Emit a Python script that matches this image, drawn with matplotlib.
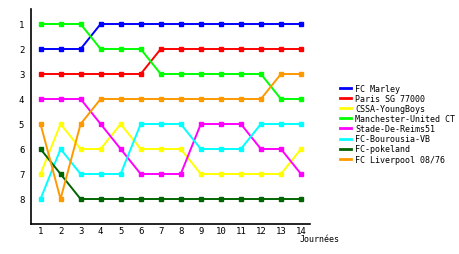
import matplotlib
matplotlib.use('Agg')
import matplotlib.pyplot as plt

# journées
journees = list(range(1, 15))

# classement de chaque équipe
equipes = ['FC Marley', 'Paris SG 77000', 'CSSA-YoungBoys', 'Manchester-United CT',
           'Stade-De-Reims51', 'FC-Bourousia-VB', 'FC-pokeland', 'FC Liverpool 08/76']
couleurs = ['#0000ff', '#ff0000', '#ffff00', '#00ff00', '#ff00ff', '#00ffff', '#006400', '#ff9900']

marley = [2, 2, 2, 1, 1, 1, 1, 1, 1, 1, 1, 1, 1, 1]
paris = [3, 3, 3, 3, 3, 3, 2, 2, 2, 2, 2, 2, 2, 2]
cssa = [7, 5, 6, 6, 5, 6, 6, 6, 7, 7, 7, 7, 7, 6]
manchester = [1, 1, 1, 2, 2, 2, 3, 3, 3, 3, 3, 3, 4, 4]
reims = [4, 4, 4, 5, 6, 7, 7, 7, 5, 5, 5, 6, 6, 7]
bourousia = [8, 6, 7, 7, 7, 5, 5, 5, 6, 6, 6, 5, 5, 5]
pokeland = [6, 7, 8, 8, 8, 8, 8, 8, 8, 8, 8, 8, 8, 8]
liverpool = [5, 8, 5, 4, 4, 4, 4, 4, 4, 4, 4, 4, 3, 3]

classements = [marley, paris, cssa, manchester, reims, bourousia, pokeland, liverpool]

plt.rcParams['font.family'] = ['DejaVu Sans Mono']

fig = plt.figure(figsize=(4.6, 2.55), dpi=100)
ax = fig.add_axes([30.5 / 460, 1 - 225 / 255, 279.5 / 460, 215 / 255])

for nom, coul, rang in zip(equipes, couleurs, classements):
    ax.plot(journees, rang, color=coul, linewidth=1.4, marker='s', markersize=2.5,
            label=nom)

ax.set_xlim(0.5, 14.45)
ax.set_ylim(9, 0.4)
ax.set_xticks(journees)
ax.set_yticks(range(1, 9))
ax.tick_params(axis='x', length=0, labelsize=6.5, pad=1.5)
ax.tick_params(axis='y', length=0, labelsize=6.5, pad=4.5)
ax.spines['top'].set_visible(False)
ax.spines['right'].set_visible(False)
ax.spines['left'].set_linewidth(1.2)
ax.spines['bottom'].set_linewidth(1.2)

fig.text(300 / 460, 1 - 240 / 255, 'Journées', fontsize=6, va='center', ha='left')

fig.legend(loc='upper left', bbox_to_anchor=(340 / 460, 1 - 85 / 255), frameon=False,
           fontsize=6, handlelength=1.3, handletextpad=0.5, labelspacing=0.13,
           borderaxespad=0, borderpad=0)
for h in fig.legends[0].legend_handles:
    h.set_marker('')
    h.set_linewidth(2)

fig.savefig('out.png', dpi=100)
